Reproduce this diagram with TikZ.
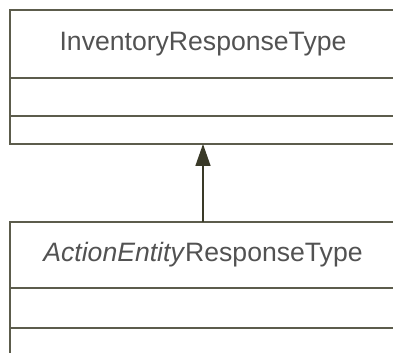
\documentclass[tikz,border=0pt]{standalone}
\usepackage{fontspec}
\setmainfont{Liberation Sans}
\usetikzlibrary{positioning}
\usetikzlibrary{arrows.meta}
\definecolor{linecol}{RGB}{92,92,76}
\definecolor{arrowcol}{RGB}{58,58,40}
\definecolor{textcol}{RGB}{82,82,82}
\tikzset{x=0.5pt, y=-0.5pt,
compartment/.style={ % Sets the properties for each box part
draw=linecol,
line width=1pt,
outer sep=0pt,
inner sep=0pt,
minimum width=193pt},
classname/.style={ % Top part that holds the class name
compartment,
text=textcol,
font=\fontsize{13.3}{15}\selectfont},
generalization/.style={ % Inheritance arrow with filled head
draw=arrowcol,
line width=0.75pt,
-{Triangle[length=11pt,width=7.5pt]}}}

\begin{document}
\begin{tikzpicture}
\useasboundingbox (0,0) rectangle (393,353);
\clip (0,0) rectangle (393,353);
\node[classname, minimum height=34pt, anchor=north west] (inv) at (10,10) {InventoryResponseType};
\node[compartment, minimum height=19pt, below=0pt of inv] (invattr) {};
\node[compartment, minimum height=14pt, below=0pt of invattr] (invop) {};
\node[classname, minimum height=33pt, anchor=north west] (act) at (10,222) {\textit{ActionEntity}ResponseType};
\node[compartment, minimum height=20pt, below=0pt of act] (actattr) {};
\node[compartment, minimum height=20pt, below=0pt of actattr] (actop) {};
\draw[generalization] (act) -- (invop);
\end{tikzpicture}
\end{document}
